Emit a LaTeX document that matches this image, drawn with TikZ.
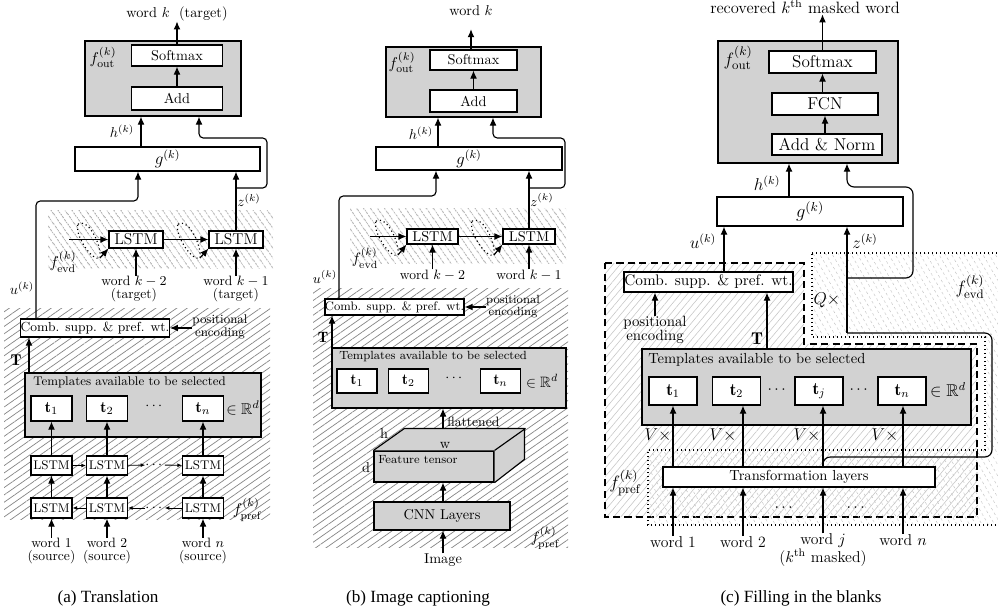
\RequirePackage{fix-cm}
\documentclass[tikz,border=0pt]{standalone}
\usepackage{amsmath,amssymb}
\usepackage{fontspec}
\newfontfamily\capfont{Liberation Serif}
\usetikzlibrary{arrows.meta,patterns.meta}
\newcommand{\fs}[1]{\fontsize{#1}{#1}\selectfont}
\tikzset{
  px/.style 2 args={minimum width=#1*0.7pt, minimum height=#2*0.7pt},
  box/.style={draw, line width=0.8pt, fill=white, inner sep=0pt},
  gbox/.style={draw, line width=0.8pt, fill=gray!35, inner sep=0pt},
  arr/.style={line width=0.8pt, -{Latex[length=5.6pt,width=4.8pt]}},
  sarr/.style={line width=0.6pt, -{Latex[length=3.2pt,width=2.8pt]}},
  lab/.style={inner sep=0pt},
  hatchne/.style={pattern={Lines[angle=35,distance=4.2pt,line width=0.5pt]}, pattern color=#1},
  hatchnw/.style={pattern={Lines[angle=-55,distance=4pt,line width=0.5pt]}, pattern color=#1},
  lightne/.style={pattern={Lines[angle=50,distance=3.8pt,line width=0.4pt]}, pattern color=gray!45},
  lightnw/.style={pattern={Lines[angle=-60,distance=3.8pt,line width=0.4pt]}, pattern color=gray!45},
  loopy/.style={dotted, line width=0.8pt},
}
\begin{document}
\begin{tikzpicture}[x=0.7pt,y=-0.7pt]
\clip (0,0) rectangle (998,615);

% (a) translation
\path[hatchnw=gray!95] (48,210) rectangle (273,268);
\path[hatchne=gray!95] (4,308) rectangle (270,519);

\node[gbox, px={156}{75}] (foutA) at (163,78.5) {};
\node[lab, font=\fs{11}] (foA) at (103,57) {$f^{(k)}_{\mathrm{out}}$};
\node[box, px={91}{21}] (softA) at (177,55.5) {Softmax};
\node[box, px={91}{23}] (addA) at (177,98.5) {Add};
\node[lab] (outA) at (177,14) {word $k$\ \ (target)};
\draw[arr] (addA) -- (softA);
\draw[arr] (softA) -- (outA);

\node[box, px={185}{24}, font=\fs{12}] (gA) at (167.5,159) {$g^{(k)}$};
\coordinate (hA) at (141,0);
\draw[arr] (gA.north -| hA) -- (foutA.south -| hA);
\node[lab] (hlA) at (122,131) {$h^{(k)}$};

\node[box, px={54}{17}, font=\fs{11}] (lstmA1) at (136,239.5) {LSTM};
\node[box, px={54}{17}, font=\fs{11}] (lstmA2) at (236,239.5) {LSTM};
\coordinate (inA) at (69,239.5);
\draw[arr] (inA) -- (lstmA1);
\draw[arr] (lstmA1) -- (lstmA2);
\node[lab, align=center, font=\fs{9.5}] (wkA2) at (134,289) {word $k-2$\\(target)};
\node[lab, align=center, font=\fs{9.5}] (wkA1) at (236,289) {word $k-1$\\(target)};
\draw[arr] (wkA2.north -| lstmA1.south) -- (lstmA1.south);
\draw[arr] (wkA1.north -| lstmA2.south) -- (lstmA2.south);
\node[lab, font=\fs{11}] (feA) at (63,262) {$f^{(k)}_{\mathrm{evd}}$};

\coordinate (zA) at (236,188);
\coordinate (zA2) at (199,138);
\draw[arr] (lstmA2.north) -- (gA.south -| lstmA2.north);
\draw[arr, rounded corners=3pt] (zA) -- (267,188) -- (267,138) -- (zA2) -- (foutA.south -| zA2);
\node[lab] (zlA) at (249,200) {$z^{(k)}$};

\node[box, px={144}{18}, font=\fs{9.2}] (combA) at (95,328) {Comb. supp. \& pref. wt.};
\node[lab, align=center, font=\fontsize{8.8}{7}\selectfont] (posA) at (220,327) {positional\\encoding};
\draw[arr] (posA.west |- combA) -- (combA.east);

\coordinate (uA0) at (36,0);
\coordinate (uA) at (138,201);
\draw[arr, rounded corners=3pt] (combA.north -| uA0) |- (uA) -- (gA.south -| uA);
\node[lab] (ulA) at (22,288) {$u^{(k)}$};

\node[gbox, px={236}{64}] (tplA) at (143,405) {};
\node[lab, anchor=west, font=\fs{8.8}] (tlA) at (33,382) {Templates available to be selected};
\node[box, px={41}{25}, font=\fs{11}] (t1A) at (51.5,408.5) {$\mathbf{t}_1$};
\node[box, px={41}{25}, font=\fs{11}] (t2A) at (107,408.5) {$\mathbf{t}_2$};
\node[box, px={41}{25}, font=\fs{11}] (tnA) at (203,408.5) {$\mathbf{t}_n$};
\node[lab] (dA) at (155,406) {$\cdots$};
\node[lab, font=\fs{11}] (rA) at (243,408) {$\in\mathbb{R}^d$};
\node[lab, font=\fs{11}] (TA) at (16,360) {$\mathbf{T}$};
\coordinate (tA0) at (29,0);
\draw[arr] (tplA.north -| tA0) -- (combA.south -| tA0);

\node[box, px={41}{19}, font=\fs{8.8}] (upA1) at (51.5,465.5) {LSTM};
\node[box, px={41}{19}, font=\fs{8.8}] (upA2) at (107,465.5) {LSTM};
\node[box, px={41}{19}, font=\fs{8.8}] (upA3) at (203,465.5) {LSTM};
\node[box, px={41}{20}, font=\fs{8.8}] (loA1) at (51.5,508) {LSTM};
\node[box, px={41}{20}, font=\fs{8.8}] (loA2) at (107,508) {LSTM};
\node[box, px={41}{20}, font=\fs{8.8}] (loA3) at (203,508) {LSTM};
\node[lab] (duA) at (155,465) {$\cdots$};
\node[lab] (dlA) at (155,508) {$\cdots$};
\draw[sarr] (upA1) -- (upA2);
\draw[sarr] (upA2) -- (duA);
\draw[sarr] (duA) -- (upA3);
\draw[sarr] (loA2) -- (loA1);
\draw[sarr] (dlA) -- (loA2);
\draw[sarr] (loA3) -- (dlA);
\draw[arr] (loA1) -- (upA1);
\draw[arr] (loA2) -- (upA2);
\draw[arr] (loA3) -- (upA3);
\draw[arr] (upA1) -- (t1A);
\draw[arr] (upA2) -- (t2A);
\draw[arr] (upA3) -- (tnA);
\node[lab, font=\fs{11}] (fpA) at (247,510) {$f^{(k)}_{\mathrm{pref}}$};

\node[lab, align=center, font=\fs{9.5}] (wA1) at (51.5,551) {word 1\\(source)};
\node[lab, align=center, font=\fs{9.5}] (wA2) at (107,551) {word 2\\(source)};
\node[lab, align=center, font=\fs{9.5}] (wA3) at (203,551) {word $n$\\(source)};
\draw[arr] (wA1) -- (loA1);
\draw[arr] (wA2) -- (loA2);
\draw[arr] (wA3) -- (loA3);
\node[lab, font={\capfont\fs{12}}] (capA) at (108,598) {(a) Translation};

% (b) image captioning
\path[hatchnw=gray!95] (350,208) rectangle (566,263);
\path[hatchne=gray!95] (313,288) rectangle (568,547);

\node[gbox, px={155}{70}] (foutB) at (463.5,82) {};
\node[lab, font=\fs{11}] (foB) at (402,62) {$f^{(k)}_{\mathrm{out}}$};
\node[box, px={87}{20}] (softB) at (473.5,60) {Softmax};
\node[box, px={87}{22}] (addB) at (473.5,101) {Add};
\node[lab] (outB) at (471,11) {word $k$};
\draw[arr] (addB) -- (softB);
\draw[arr, shorten >=9pt] (softB.north -| outB) -- (outB);

\node[box, px={186}{23}, font=\fs{11.5}] (gB) at (469,158.5) {$g^{(k)}$};
\coordinate (hB) at (438,0);
\draw[arr] (gB.north -| hB) -- (foutB.south -| hB);
\node[lab] (hlB) at (421,133) {$h^{(k)}$};

\node[box, px={51}{15}] (lstmB1) at (432.5,236.5) {LSTM};
\node[box, px={52}{15}] (lstmB2) at (529,236.5) {LSTM};
\coordinate (inB) at (370,236.5);
\draw[arr] (inB) -- (lstmB1);
\draw[arr] (lstmB1) -- (lstmB2);
\node[lab, font=\fs{9.5}] (wkB2) at (432.5,275) {word $k-2$};
\node[lab, font=\fs{9.5}] (wkB1) at (529,275) {word $k-1$};
\draw[arr] (wkB2.north -| lstmB1.south) -- (lstmB1.south);
\draw[arr] (wkB1.north -| lstmB2.south) -- (lstmB2.south);
\node[lab, font=\fs{10.5}] (feB) at (365,258) {$f^{(k)}_{\mathrm{evd}}$};

\coordinate (zB) at (529,188);
\coordinate (zB2) at (493,138);
\draw[arr] (lstmB2.north) -- (gB.south -| lstmB2.north);
\draw[arr, rounded corners=3pt] (zB) -- (565,188) -- (565,138) -- (zB2) -- (foutB.south -| zB2);
\node[lab, font=\fs{9.5}] (zlB) at (542,200) {$z^{(k)}$};

\node[box, px={137}{16}, font=\fs{8.6}] (combB) at (394.5,307) {Comb. supp. \& pref. wt.};
\node[lab, align=center, font=\fontsize{8.3}{6.6}\selectfont] (posB) at (513,307) {positional\\encoding};
\draw[arr] (posB.west |- combB) -- (combB.east);

\coordinate (uB0) at (339,0);
\coordinate (uB) at (436,196);
\draw[arr, rounded corners=3pt] (combB.north -| uB0) |- (uB) -- (gB.south -| uB);
\node[lab, font=\fs{9.5}] (ulB) at (325,277) {$u^{(k)}$};

\node[gbox, px={234}{60}] (tplB) at (449,378) {};
\node[lab, anchor=west, font=\fs{8.3}] (tlB) at (339,357) {Templates available to be selected};
\node[box, px={40}{24}, font=\fs{10.5}] (t1B) at (357,381) {$\mathbf{t}_1$};
\node[box, px={40}{24}, font=\fs{10.5}] (t2B) at (408.5,381) {$\mathbf{t}_2$};
\node[box, px={40}{24}, font=\fs{10.5}] (tnB) at (500.5,381) {$\mathbf{t}_n$};
\node[lab] (dB) at (455,378) {$\cdots$};
\node[lab, font=\fs{10.5}] (rB) at (542,381) {$\in\mathbb{R}^d$};
\node[lab, font=\fs{10.5}] (TB) at (323,337) {$\mathbf{T}$};
\coordinate (tB0) at (332,0);
\draw[arr] (tplB.north -| tB0) -- (combB.south -| tB0);

\node[gbox, px={120}{31}] (tensB) at (434,466.5) {};
\fill[gray!35] (tensB.north west) -- ++(31,-22) -- ++(120,0) -- ++(0,31) -- (tensB.south east) -- (tensB.north east) -- cycle;
\draw[line width=0.8pt, line join=round] (tensB.north west) -- ++(31,-22) -- ++(120,0) -- ++(0,31) -- (tensB.south east);
\draw[line width=0.8pt] (tensB.north east) -- ++(31,-22);
\node[lab, anchor=west, font=\fs{8.3}] (ftB) at (378,460) {Feature tensor};
\node[lab] (hhB) at (384,434) {h};
\node[lab] (wwB) at (445,445) {w};
\node[lab] (ddB) at (366,468) {d};
\coordinate (ttop) at (443,429);
\draw[arr] (ttop) -- (ttop |- tplB.south);
\node[lab, anchor=west, font=\fs{9.5}] (flB) at (447,422) {flattened};

\node[gbox, px={136}{28}] (cnnB) at (442,516) {CNN Layers};
\draw[arr] (cnnB.north -| ttop) -- (tensB.south -| ttop);
\node[lab] (imgB) at (443,560) {Image};
\draw[arr] (imgB) -- (imgB |- cnnB.south);
\node[lab, font=\fs{10.5}] (fpB) at (545,538) {$f^{(k)}_{\mathrm{pref}}$};
\node[lab, font={\capfont\fs{12}}] (capB) at (418,598) {(b) Image captioning};

% memory loops of the evidence LSTMs
\foreach \dx/\dy/\n in {0/0/lstmA1,100/0/lstmA2,298/-3/lstmB1,394/-3/lstmB2} {
  \draw[loopy, shift={(\dx,\dy)}] (78,224) .. controls (90,218) and (102,248) .. (100,258) .. controls (92,262) and (74,234) .. (78,224);
  \draw[arr, shift={(\dx,\dy)}] (100,258) -- (\n.south west);
}

% (c) filling in the blanks
\draw[dashed, dash pattern=on 5pt off 3pt, line width=0.8pt, lightne] (605,263) -- (804,263) -- (804,344) -- (977,344) -- (977,517) -- (605,517) -- cycle;
\draw[loopy, lightnw] (812,253) -- (1010,253) -- (1010,525) -- (648,525) -- (648,450) -- (985,450) -- (985,337) -- (812,337) -- cycle;

\node[gbox, px={180}{122}] (foutC) at (808,102) {};
\node[lab, font=\fs{12.5}] (foC) at (738,58) {$f^{(k)}_{\mathrm{out}}$};
\node[box, px={107}{22}, font=\fs{12}] (softC) at (822.5,62) {Softmax};
\node[box, px={106}{22}, font=\fs{12}] (fcnC) at (825,104) {FCN};
\node[box, px={110}{21}, font=\fs{12}] (addC) at (827,144.5) {Add \& Norm};
\node[lab, font=\fs{11.5}] (outC) at (805,7) {recovered $k^{\text{th}}$ masked word};
\draw[arr] (addC.north -| fcnC) -- (fcnC.south);
\draw[arr] (fcnC.north -| softC) -- (softC.south);
\draw[arr] (softC.north) -- (softC.north |- outC.south);

\node[box, px={186}{29}, font=\fs{13}] (gC) at (810,211.5) {$g^{(k)}$};
\coordinate (hC) at (789,0);
\draw[arr] (gC.north -| hC) -- (foutC.south -| hC);
\node[lab, font=\fs{12}] (hlC) at (767,183) {$h^{(k)}$};

\node[box, px={169}{20}, font=\fs{10.7}] (combC) at (708.5,282) {Comb. supp. \& pref. wt.};
\coordinate (uC) at (724,0);
\draw[arr] (combC.north -| uC) -- (gC.south -| uC);
\node[lab, font=\fs{12}] (ulC) at (703,241) {$u^{(k)}$};
\node[lab, align=center, font=\fontsize{10.4}{7.7}\selectfont] (posC) at (655,330) {positional\\encoding};
\draw[arr] (posC.north) -- (posC.north |- combC.south);

\node[gbox, px={329}{76}] (tplC) at (806.5,387) {};
\node[lab, anchor=west, font=\fs{10.2}] (tlC) at (648,360) {Templates available to be selected};
\node[box, px={48}{28}, font=\fs{12}] (t1C) at (673,391) {$\mathbf{t}_1$};
\node[box, px={48}{28}, font=\fs{12}] (t2C) at (736.5,391) {$\mathbf{t}_2$};
\node[box, px={48}{28}, font=\fs{12}] (tjC) at (819,391) {$\mathbf{t}_j$};
\node[box, px={48}{28}, font=\fs{12}] (tnC) at (902,391) {$\mathbf{t}_n$};
\node[lab, font=\fs{11}] (d1C) at (778,390) {$\cdots$};
\node[lab, font=\fs{11}] (d2C) at (860,390) {$\cdots$};
\node[lab, font=\fs{12}] (rC) at (948,390) {$\in\mathbb{R}^d$};
\coordinate (tC0) at (767,0);
\draw[arr] (tplC.north -| tC0) -- (combC.south -| tC0);
\node[lab, font=\fs{12}] (TC) at (757,339) {$\mathbf{T}$};

\node[box, px={272}{20}, font=\fs{10.2}] (transC) at (799,477) {Transformation layers};
\node[lab, font=\fs{11}] (w1C) at (673,542) {word 1};
\node[lab, font=\fs{11}] (w2C) at (743,542) {word 2};
\node[lab, align=center, font=\fs{11}] (wjC) at (823,550) {word $j$\\($k^{\text{th}}$ masked)};
\node[lab, font=\fs{11}] (wnC) at (903,540) {word $n$};
\draw[arr] (w1C.north) -- (transC.south -| w1C);
\draw[arr] (w2C.north) -- (transC.south -| w2C);
\draw[arr] (wjC.north) -- (transC.south -| wjC);
\draw[arr] (wnC.north) -- (transC.south -| wnC);
\draw[arr] (transC.north -| w1C) -- (t1C.south -| w1C);
\draw[arr] (transC.north -| w2C) -- (t2C.south -| w2C);
\draw[arr] (transC.north -| wjC) -- (tjC.south -| wjC);
\draw[arr] (transC.north -| wnC) -- (tnC.south -| wnC);
\node[lab, font=\fs{12}] (v1C) at (658,435) {$V\times$};
\node[lab, font=\fs{12}] (v2C) at (723,435) {$V\times$};
\node[lab, font=\fs{12}] (v3C) at (807,435) {$V\times$};
\node[lab, font=\fs{12}] (v4C) at (885,435) {$V\times$};
\node[lab, font=\fs{11}] (e1C) at (785,508) {$\cdots$};
\node[lab, font=\fs{11}] (e2C) at (857,508) {$\cdots$};

\coordinate (jC) at (823,457);
\coordinate (zC) at (847,333);
\coordinate (zC1) at (847,278);
\coordinate (zC2) at (847,187);
\draw[line width=0.8pt, rounded corners=5pt] (transC.north -| wjC) -- (jC) -- (992,457) -- (992,333) -- (zC);
\draw[arr] (zC) -- (gC.south -| zC);
\draw[arr, rounded corners=5pt] (zC1) -- (913,278) -- (913,187) -- (zC2) -- (foutC.south -| zC2);
\node[lab, font=\fs{12}] (zlC) at (865,241) {$z^{(k)}$};
\node[lab, font=\fs{12}] (qC) at (827,300) {$Q\times$};
\node[lab, font=\fs{12.5}] (feC) at (970,287) {$f^{(k)}_{\mathrm{evd}}$};
\node[lab, font=\fs{12.5}] (fpC) at (625,483) {$f^{(k)}_{\mathrm{pref}}$};
\node[lab, font={\capfont\fs{12}}] (capC) at (801,598) {(c) Filling in the blanks};
\end{tikzpicture}
\end{document}
